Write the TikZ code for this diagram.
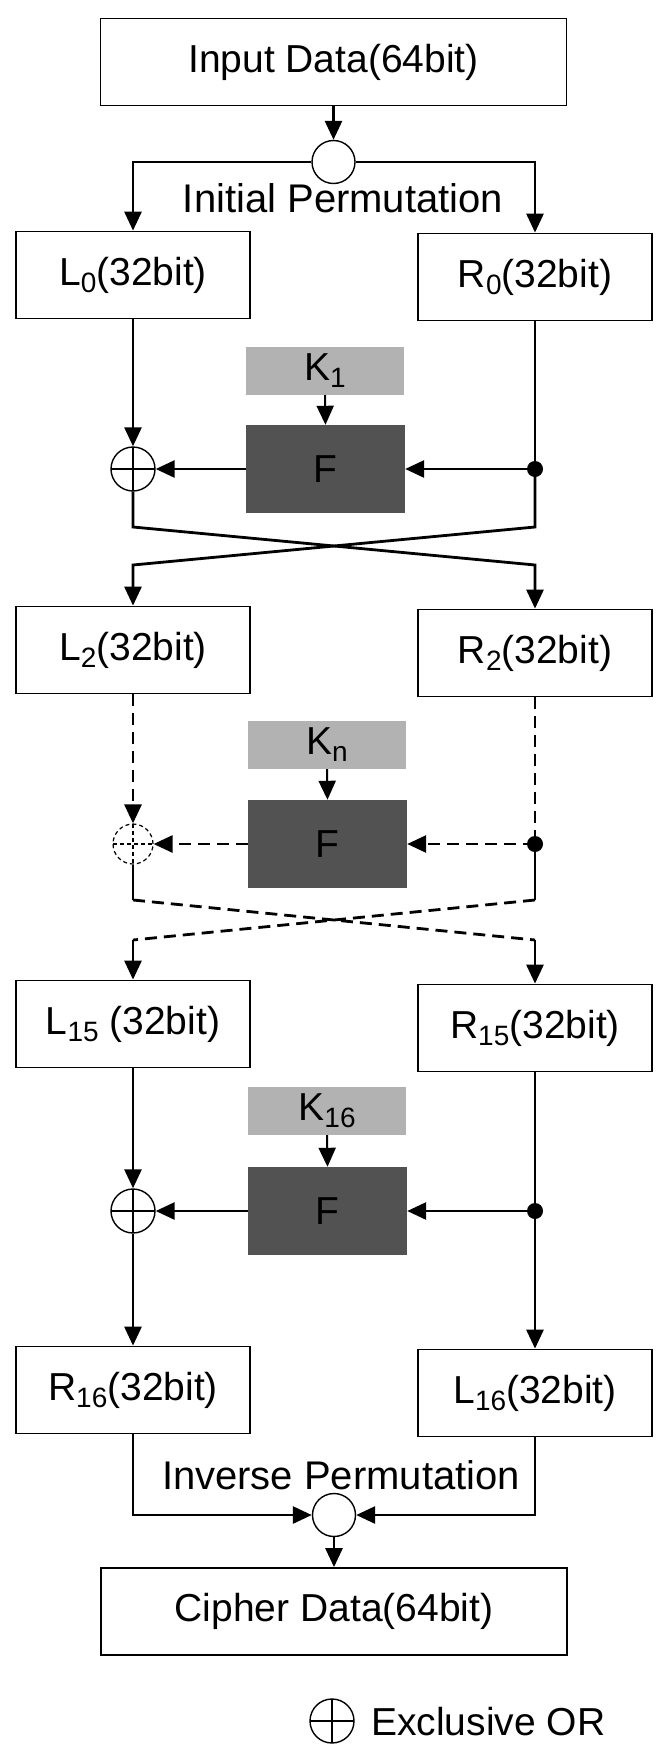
\documentclass[tikz,border=0pt]{standalone}
\usepackage{fontspec}
\setmainfont{Liberation Sans}
\usetikzlibrary{arrows.meta}

% lowered index in the label font
\newcommand{\lowidx}[1]{\raisebox{-7pt}{\fontsize{28}{28}\selectfont #1}}

\begin{document}
\begin{tikzpicture}[x=1pt,y=-1pt,
  every node/.style={font=\fontsize{39}{44}\selectfont},
  databox/.style={draw, line width=1.8pt, minimum width=234pt, minimum height=87pt, inner sep=0pt},
  widebox/.style={databox, minimum width=466pt},
  keybox/.style={fill=black!30, minimum width=158pt, minimum height=48pt, inner sep=0pt},
  fnbox/.style={fill=black!68, minimum width=159pt, minimum height=88pt, inner sep=0pt},
  xorsym/.style={circle, draw, line width=1.4pt, minimum size=44pt, inner sep=0pt,
    path picture={\draw[line width=1.4pt]
      (path picture bounding box.north) -- (path picture bounding box.south)
      (path picture bounding box.west) -- (path picture bounding box.east);}},
  dashxor/.style={circle, draw, line width=1.2pt, dash pattern=on 4pt off 3pt, minimum size=40pt, inner sep=0pt,
    path picture={\draw[line width=1.2pt, dash pattern=on 4pt off 3pt]
      (path picture bounding box.north) -- (path picture bounding box.south)
      (path picture bounding box.west) -- (path picture bounding box.east);}},
  permsym/.style={circle, draw, line width=1.4pt, minimum size=43pt, inner sep=0pt},
  joint/.style={circle, fill, minimum size=16pt, inner sep=0pt},
  link/.style={line width=2.8pt},
  thinlink/.style={line width=2pt},
  tip/.style={-{Triangle[length=19pt,width=17pt]}},
  flow/.style={link, tip},
  dashlink/.style={line width=2.8pt, dash pattern=on 12pt off 7pt},
  labeltext/.style={inner sep=0pt, font=\fontsize{40}{44}\selectfont},
]
\useasboundingbox (0,0) rectangle (656,1747);

% ---- input and initial permutation
\node[widebox] (inp) at (333.5,62) {Input Data(64bit)};
\node[permsym] (ip) at (333.5,162) {};
\node[labeltext] (iptext) at (343,198) {Initial Permutation};

% ---- data halves
\node[databox] (L0) at (133,275) {L\lowidx{0}(32bit)};
\node[databox] (R0) at (535,277) {R\lowidx{0}(32bit)};
\node[databox] (L2) at (133,650) {L\lowidx{2}(32bit)};
\node[databox] (R2) at (535,653) {R\lowidx{2}(32bit)};
\node[databox] (L15) at (133,1024) {L\lowidx{15} (32bit)};
\node[databox] (R15) at (535,1028) {R\lowidx{15}(32bit)};
\node[databox] (R16) at (133,1390) {R\lowidx{16}(32bit)};
\node[databox] (L16) at (535,1393) {L\lowidx{16}(32bit)};

% ---- round keys and round functions
\node[keybox] (K1) at (325,371) {K\lowidx{1}};
\node[fnbox] (F1) at (325.5,469) {F};
\node[keybox] (Kn) at (327,745) {K\lowidx{n}};
\node[fnbox] (Fn) at (327.5,844) {F};
\node[keybox] (K16) at (327,1111) {K\lowidx{16}};
\node[fnbox] (F16) at (327.5,1211) {F};

% ---- exclusive-or points and branch points
\node[xorsym] (X1) at (133,469) {};
\node[joint] (D1) at (535,469) {};
\node[dashxor] (X2) at (133,844) {};
\node[joint] (D2) at (535,844) {};
\node[xorsym] (X16) at (133,1211) {};
\node[joint] (D16) at (535,1211) {};

% ---- inverse permutation and output
\node[labeltext] (invtext) at (341,1475) {Inverse Permutation};
\node[permsym] (fp) at (334,1515) {};
\node[widebox] (out) at (334,1611.5) {Cipher Data(64bit)};

% ---- legend
\node[xorsym] (lg) at (332,1721) {};
\node[inner sep=0pt, anchor=west] (lgtext) at (371,1722) {Exclusive OR};

% ---- initial permutation split
\draw[flow] (inp.south) -- (ip.north);
\draw[flow] (ip.west) -- (ip.west -| L0) -- (L0.north);
\draw[flow] (ip.east) -- (ip.east -| R0) -- (R0.north);

% ---- round 1
\draw[flow] (L0.south) -- (X1.north);
\draw[thinlink] (R0.south) -- (D1.center);
\draw[flow] (D1.center) -- (F1.east);
\draw[flow] (F1.west) -- (X1.east);
\draw[thinlink, tip] (K1.south) -- (F1.north);
\coordinate (a1) at (133,527);
\coordinate (b1) at (535,565);
\coordinate (a2) at (535,527);
\coordinate (b2) at (133,565);
\draw[flow] (X1.south) -- (a1) -- (b1) -- (R2.north);
\draw[flow] (D1.center) -- (a2) -- (b2) -- (L2.north);

% ---- round n (repeated rounds)
\draw[dashlink, tip] (L2.south) -- (X2.north);
\draw[dashlink] (R2.south) -- (D2.center);
\draw[dashlink, tip] (D2.center) -- (Fn.east);
\draw[dashlink, tip] (Fn.west) -- (X2.east);
\draw[thinlink, tip] (Kn.south) -- (Fn.north);
\coordinate (c1) at (133,900);
\coordinate (d1) at (535,940);
\coordinate (c2) at (535,900);
\coordinate (d2) at (133,940);
\draw[thinlink] (X2.south) -- (c1);
\draw[thinlink] (D2.center) -- (c2);
\draw[dashlink] (c1) -- (d1);
\draw[dashlink] (c2) -- (d2);
\draw[flow] (d1) -- (R15.north);
\draw[flow] (d2) -- (L15.north);

% ---- round 16
\draw[flow] (L15.south) -- (X16.north);
\draw[thinlink] (R15.south) -- (D16.center);
\draw[flow] (D16.center) -- (F16.east);
\draw[flow] (F16.west) -- (X16.east);
\draw[thinlink, tip] (K16.south) -- (F16.north);
\draw[flow] (X16.south) -- (R16.north);
\draw[flow] (D16.center) -- (L16.north);

% ---- inverse permutation merge
\draw[flow] (R16.south) -- (R16.south |- fp.west) -- (fp.west);
\draw[flow] (L16.south) -- (L16.south |- fp.east) -- (fp.east);
\draw[flow] (fp.south) -- (out.north);
\end{tikzpicture}
\end{document}
